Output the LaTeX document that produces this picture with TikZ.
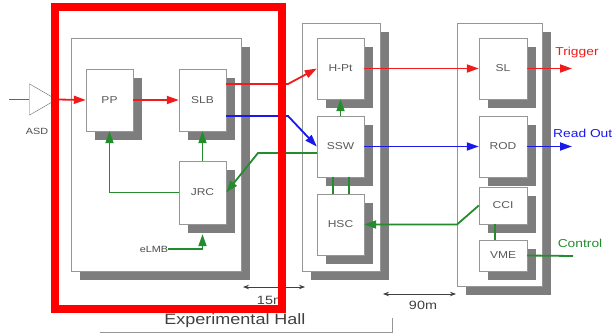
\documentclass[tikz,border=0pt]{standalone}
\usepackage{fontspec}
\setmainfont{Liberation Sans}
\newfontfamily\widesf[FakeStretch=1.2]{Liberation Sans}
\usetikzlibrary{shapes.geometric,shadows,arrows.meta}
\definecolor{sigred}{RGB}{238,28,28}
\definecolor{sigblue}{RGB}{25,25,235}
\definecolor{siggreen}{RGB}{35,140,45}
\definecolor{shade}{RGB}{125,125,125}
\definecolor{rim}{RGB}{150,150,150}

\begin{document}
\begin{tikzpicture}[x=1pt,y=-1pt,>={Triangle[length=12pt,width=8pt]},
  panel/.style={draw=rim,fill=white,inner sep=0pt,
    drop shadow={shadow xshift=9pt,shadow yshift=-9pt,fill=shade,opacity=1}},
  blk/.style={panel,minimum width=47pt,font=\widesf\fontsize{10}{12}\selectfont,text=black!65},
  rline/.style={draw=sigred,line width=1.8pt},
  bline/.style={draw=sigblue,line width=1.8pt},
  gline/.style={draw=siggreen,line width=1.8pt},
  lbl/.style={font=\widesf\fontsize{11.5}{13}\selectfont,inner sep=0pt}]
\useasboundingbox (0,0) rectangle (613,334);

% panels
\node[panel,minimum width=170pt,minimum height=233pt] (hall) at (156,154.5) {};
\node[panel,minimum width=78pt,minimum height=248pt] (sector) at (341,147) {};
\node[panel,minimum width=85pt,minimum height=263pt] (counting) at (499.5,154.5) {};

% boards on the chamber
\node[blk,minimum height=62pt] (pp) at (109.5,100) {PP};
\node[blk,minimum height=62pt] (slb) at (202.5,100) {SLB};
\node[blk,minimum height=63pt] (jrc) at (202.5,192.5) {JRC};

% sector logic crate
\node[blk,minimum height=61pt] (hpt) at (340.5,68.5) {H-Pt};
\node[blk,minimum height=61pt] (ssw) at (340.5,146.5) {SSW};
\node[blk,minimum height=61pt] (hsc) at (340.5,224.5) {HSC};

% counting room
\node[blk,minimum width=48pt,minimum height=61pt] (sl) at (503,68.5) {SL};
\node[blk,minimum width=48pt,minimum height=61pt] (rod) at (503,146.5) {ROD};
\node[blk,minimum width=48pt,minimum height=37pt] (cci) at (503,205.5) {CCI};
\node[blk,minimum width=48pt,minimum height=31pt] (vme) at (503,255.5) {VME};

% amplifier
\node[draw=black!60,isosceles triangle,isosceles triangle apex angle=60,
  minimum height=27pt,inner sep=0pt,fill=white] (asd) at (38.5,99.5) {};
\node[lbl,text=black!70,font=\widesf\fontsize{9}{10}\selectfont] (asdlbl) at (37,131) {ASD};
\coordinate (asdin) at (9,99.5);
\draw[draw=black!60] (asdin) -- (asd.west);

% trigger path
\draw[rline,->] (asd.apex) -- (pp.west);
\draw[rline,->] (pp.east) -- (slb.west);
\draw[rline,->] ([yshift=16pt]slb.east) -- (288,84) -- (hpt.west);
\draw[rline,->] (hpt.east) -- (sl.west);
\coordinate (trigend) at (572,68.5);
\draw[rline,->] (sl.east) -- (trigend);
\node[lbl,text=sigred] (trig) at (577,53) {Trigger};

% readout path
\draw[bline,->] ([yshift=-16pt]slb.east) -- (288,116) -- (ssw.west);
\draw[bline,->] (ssw.east) -- (rod.west);
\coordinate (roend) at (572,146.5);
\draw[bline,->] (rod.east) -- (roend);
\node[lbl,text=sigblue,anchor=west] (ro) at (553,133) {Read Out};

% control path
\draw[gline,->] ([yshift=-6.5pt]ssw.west) -- (258,153) -- (jrc.east);
\draw[gline,->] (jrc.north) -- (slb.south);
\draw[gline,->] (jrc.west) -| (pp.south);
\node[lbl,text=black!70,font=\widesf\fontsize{9}{10}\selectfont] (elmb) at (154,249) {eLMB};
\draw[gline,->] (elmb.east) -| ([yshift=-10pt]jrc.south);
\draw[gline,->] (ssw.north) -- (hpt.south);
\draw[gline] ([xshift=-7.5pt]ssw.south) -- ([xshift=-7.5pt]hsc.north);
\draw[gline] ([xshift=8.5pt]ssw.south) -- ([xshift=8.5pt]hsc.north);
\draw[gline,->] (cci.west) -- (457,224.5) -- (hsc.east);
\draw[gline] ([xshift=-8pt]cci.south) -- ([xshift=-8pt]vme.north);
\coordinate (ctlend) at (573,256);
\draw[gline] (vme.east) -- (ctlend);
\node[lbl,text=siggreen] (ctl) at (580,243) {Control};

% distances
\coordinate (da) at (243,287);
\coordinate (db) at (305,287);
\draw[black!75,line width=0.8pt,{Stealth[length=6pt]}-{Stealth[length=6pt]}] (da) -- (db);
\node[lbl,text=black!75,font=\widesf\fontsize{12}{14}\selectfont] (d15) at (271,300) {15m};
\coordinate (dc) at (383,294);
\coordinate (dd) at (456,294);
\draw[black!75,line width=0.8pt,{Stealth[length=6pt]}-{Stealth[length=6pt]}] (dc) -- (dd);
\node[lbl,text=black!75,font=\widesf\fontsize{12}{14}\selectfont] (d90) at (423,305) {90m};

% hall bracket
\node[lbl,text=black!75,font=\widesf\fontsize{15}{17}\selectfont] (hallname) at (235,321) {Experimental Hall};
\draw[rim,line width=0.8pt] (100,332) -- (392,332) -- (392,318);

% highlight
\draw[red,line width=8pt] (55,7) rectangle (282,309);
\end{tikzpicture}
\end{document}
